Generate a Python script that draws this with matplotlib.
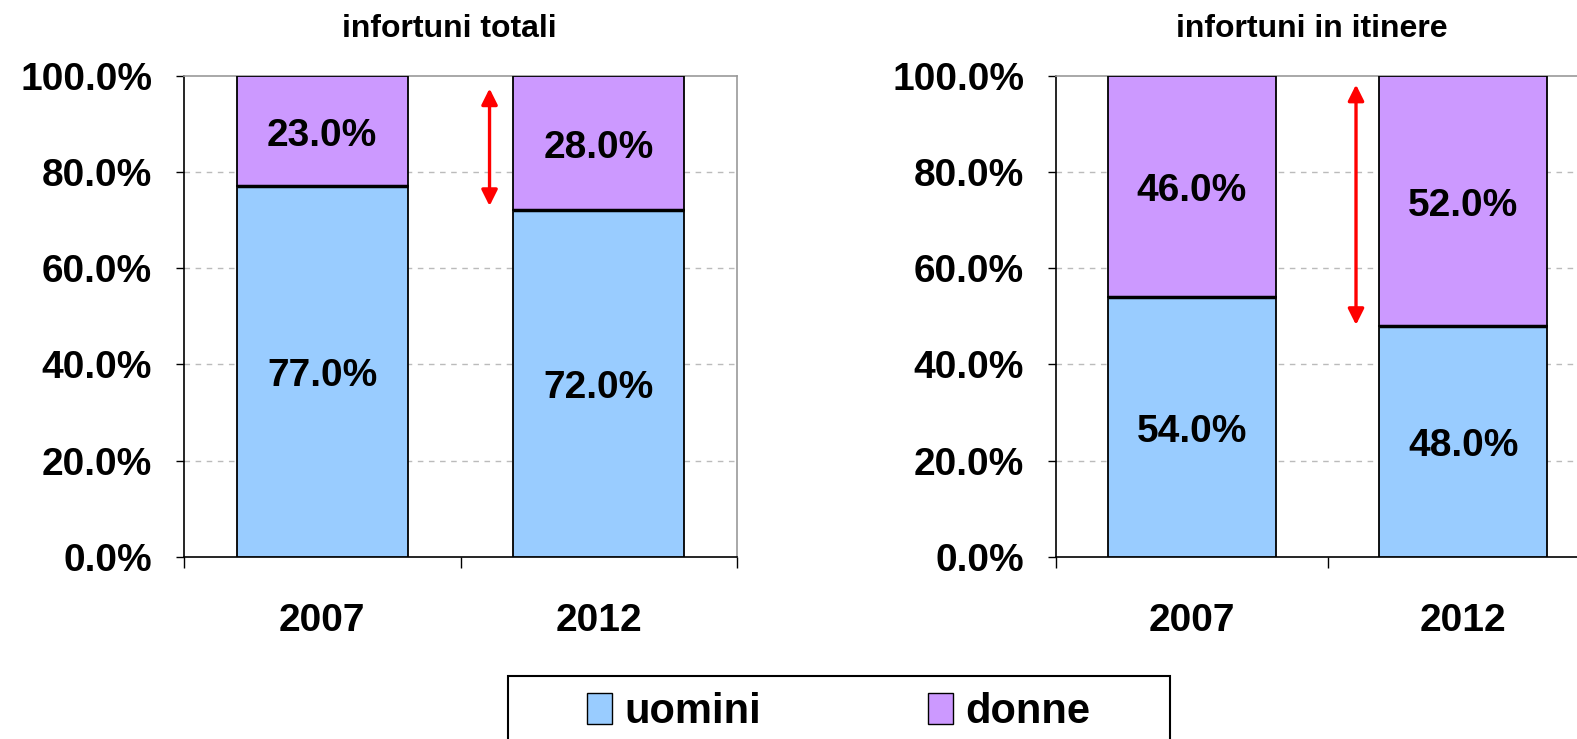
import matplotlib
matplotlib.use("Agg")
import matplotlib.pyplot as plt
from matplotlib.patches import Rectangle, Patch

plt.rcParams['font.family'] = ['Liberation Sans', 'DejaVu Sans']
plt.rcParams['font.weight'] = 'bold'

years = ["2007", "2012"]
titles = ["infortuni totali", "infortuni in itinere"]
uomini = [[77.0, 72.0], [54.0, 48.0]]
donne = [[23.0, 28.0], [46.0, 52.0]]
arrows = [(97.3, 72.9), (98.1, 48.2)]
series_names = ["uomini", "donne"]
c_u = "#99CCFF"
c_d = "#CC99FF"

W, H = 1577, 739
fig = plt.figure(figsize=(W / 100, H / 100), dpi=100)

axes_px = [(184, 553), (1056, 543)]
top_px, bot_px = 75.5, 557
title_x = [449, 1312]
FS = 28

for i, (x0, w) in enumerate(axes_px):
    ax = fig.add_axes([x0 / W, 1 - bot_px / H, w / W, (bot_px - top_px) / H])
    xs = list(range(len(years)))
    ax.bar(xs, uomini[i], width=0.62, color=c_u, edgecolor="black", linewidth=1.3, zorder=3)
    ax.bar(xs, donne[i], bottom=uomini[i], width=0.62, color=c_d, edgecolor="black", linewidth=1.3, zorder=3)
    for x, u, d in zip(xs, uomini[i], donne[i]):
        ax.plot([x - 0.31, x + 0.31], [u, u], color="black", linewidth=2.5, zorder=4,
                solid_capstyle="butt")
        ax.text(x, u / 2 - 1.0, f"{u:.1f}%", ha="center", va="center", fontsize=FS, fontweight="bold", zorder=4)
        ax.text(x, u + d / 2 - 1.0, f"{d:.1f}%", ha="center", va="center", fontsize=FS, fontweight="bold", zorder=4)
    ax.set_xlim(-0.5, 1.5)
    ax.set_ylim(0, 100)
    ax.set_yticks([0, 20, 40, 60, 80, 100])
    ax.set_yticklabels([f"{v:.1f}%" for v in [0, 20, 40, 60, 80, 100]], fontsize=FS, fontweight="bold")
    ax.tick_params(axis="y", length=6, width=1, pad=17, direction="out")
    ax.set_xticks([-0.5, 0.5, 1.5])
    ax.set_xticklabels([])
    ax.tick_params(axis="x", which="major", length=8, width=1, direction="out")
    ax.set_xticks(xs, minor=True)
    ax.set_xticklabels(years, minor=True, fontsize=FS, fontweight="bold")
    ax.tick_params(axis="x", which="minor", length=0, pad=33)
    for v in [20, 40, 60, 80]:
        ax.axhline(v, color="#BBBBBB", linestyle=(0, (4, 4)), linewidth=1, zorder=1)
    ax.spines["left"].set_color("black")
    ax.spines["bottom"].set_color("black")
    ax.spines["top"].set_color("#999999")
    ax.spines["right"].set_color("#999999")
    for s in ax.spines.values():
        s.set_linewidth(1.2)
    y1, y2 = arrows[i]
    ax.annotate("", xy=(0.605, y1), xytext=(0.605, y2),
                arrowprops=dict(arrowstyle="<|-|>", color="red", lw=2.4,
                                mutation_scale=24, shrinkA=0, shrinkB=0), zorder=5)
    fig.text(title_x[i] / W, 1 - 29 / H, titles[i], ha="center", va="center", fontsize=23, fontweight="bold")

# legend frame
rect = Rectangle((508 / W, -0.05), (1170 - 508) / W, 0.05 + (H - 676) / H,
                 transform=fig.transFigure, facecolor="white", edgecolor="black", linewidth=1.5)
fig.patches.append(rect)
handles = [Patch(facecolor=c_u, edgecolor="black", linewidth=1),
           Patch(facecolor=c_d, edgecolor="black", linewidth=1)]
fig.legend(handles, series_names, loc="center", bbox_to_anchor=(839 / W, 1 - 712 / H),
           ncol=2, frameon=False, handlelength=0.6, handleheight=0.75,
           handletextpad=0.3, columnspacing=4.0, prop={"weight": "bold", "size": 30})

fig.savefig("out.png", dpi=100)
